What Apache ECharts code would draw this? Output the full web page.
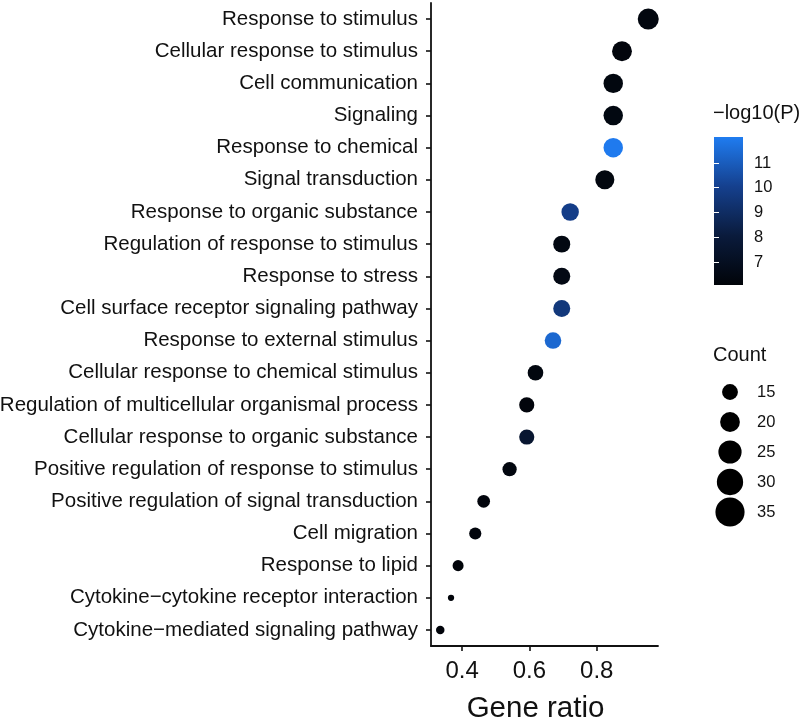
<!DOCTYPE html>
<html>
<head>
<meta charset="utf-8">
<script src="https://cdn.jsdelivr.net/npm/echarts@6/dist/echarts.min.js"></script>
<style>html,body{margin:0;padding:0;background:#fff;}#c{width:805px;height:720px;}</style>
</head>
<body>
<div id="c"></div>
<script>
var categories = [
  "Response to stimulus",
  "Cellular response to stimulus",
  "Cell communication",
  "Signaling",
  "Response to chemical",
  "Signal transduction",
  "Response to organic substance",
  "Regulation of response to stimulus",
  "Response to stress",
  "Cell surface receptor signaling pathway",
  "Response to external stimulus",
  "Cellular response to chemical stimulus",
  "Regulation of multicellular organismal process",
  "Cellular response to organic substance",
  "Positive regulation of response to stimulus",
  "Positive regulation of signal transduction",
  "Cell migration",
  "Response to lipid",
  "Cytokine\u2212cytokine receptor interaction",
  "Cytokine\u2212mediated signaling pathway"
];
var geneRatio = [0.953, 0.875, 0.849, 0.849, 0.849, 0.824, 0.721, 0.696, 0.696, 0.696, 0.670, 0.618, 0.592, 0.592, 0.541, 0.464, 0.439, 0.388, 0.367, 0.335];
var counts    = [37, 34, 33, 33, 33, 32, 28, 27, 27, 27, 26, 24, 23, 23, 21, 18, 17, 15, 8, 11];
var logP      = [6.3, 6.2, 6.3, 6.4, 12.0, 6.3, 9.9, 6.4, 6.5, 9.6, 11.4, 6.3, 6.2, 7.6, 6.3, 6.2, 6.2, 6.1, 6.1, 6.1];
var xTicks = [0.4, 0.6, 0.8];
var colorTicks = [7, 8, 9, 10, 11];
var sizeLegendCounts = [15, 20, 25, 30, 35];

var colorMin = 6.07, colorMax = 12.05;
var colorRamp = ['#010409', '#0a1b3c', '#15408e', '#1f7cf0'];
var legendScale = 1.44;
function dotSize(c) { return Math.max(3, -6.52 + 4.525 * Math.sqrt(c)); }

var font = '"Liberation Sans", Arial, sans-serif';
var stops = colorRamp.map(function (c, i) { return { offset: i / (colorRamp.length - 1), color: c }; });

var chart = echarts.init(document.getElementById('c'), null, { renderer: 'canvas' });
chart.setOption({
  backgroundColor: '#fff',
  animation: false,
  textStyle: { fontFamily: font },
  title: [
    { text: '\u2212log10(P)', left: 713, top: 103, textStyle: { fontSize: 20, fontWeight: 'normal', color: '#111', fontFamily: font }, padding: 0 },
    { text: 'Count', left: 713, top: 345, textStyle: { fontSize: 20, fontWeight: 'normal', color: '#111', fontFamily: font }, padding: 0 }
  ],
  grid: [
    { left: 431, right: 147, top: 3, bottom: 74, outerBoundsMode: 'none', containLabel: false },
    { left: 714, top: 137, width: 29, height: 148, show: true, borderWidth: 0, outerBoundsMode: 'none',
      backgroundColor: { type: 'linear', x: 0, y: 1, x2: 0, y2: 0, colorStops: stops } },
    { left: 715, top: 377, width: 30, height: 150, outerBoundsMode: 'none' }
  ],
  visualMap: [{
    type: 'continuous', show: false, min: colorMin, max: colorMax, dimension: 2, seriesIndex: 0,
    inRange: { color: colorRamp }
  }],
  xAxis: [
    { type: 'value', gridIndex: 0, min: 0.3075, max: 0.982,
      name: 'Gene ratio', nameLocation: 'middle', nameGap: 48,
      nameTextStyle: { fontSize: 29.5, color: '#111', fontFamily: font, padding: [0, 18, 0, 0] },
      axisLine: { show: true, lineStyle: { color: '#111', width: 1.8 } },
      axisTick: { show: true, length: 5, lineStyle: { color: '#111', width: 1.6 }, customValues: xTicks },
      axisLabel: { fontSize: 24, color: '#111', margin: 13, customValues: xTicks, fontFamily: font },
      splitLine: { show: false } },
    { type: 'value', gridIndex: 1, min: 0, max: 1, show: false },
    { type: 'value', gridIndex: 2, min: -1, max: 1, show: false }
  ],
  yAxis: [
    { type: 'category', gridIndex: 0, data: categories, inverse: true,
      axisLine: { show: true, lineStyle: { color: '#111', width: 1.8 } },
      axisTick: { show: true, alignWithLabel: true, length: 5, lineStyle: { color: '#111', width: 1.6 } },
      axisLabel: { fontSize: 20.5, color: '#111', margin: 13, fontFamily: font },
      splitLine: { show: false } },
    { type: 'value', gridIndex: 1, min: colorMin, max: colorMax, position: 'right',
      axisLine: { show: false },
      axisTick: { show: true, inside: true, length: 5, lineStyle: { color: '#ffffff', width: 1 }, customValues: colorTicks },
      axisLabel: { fontSize: 16.5, color: '#111', margin: 11, customValues: colorTicks, fontFamily: font },
      splitLine: { show: false } },
    { type: 'value', gridIndex: 1, min: colorMin, max: colorMax, position: 'left',
      axisLine: { show: false },
      axisTick: { show: true, inside: true, length: 5, lineStyle: { color: '#ffffff', width: 1 }, customValues: colorTicks },
      axisLabel: { show: false },
      splitLine: { show: false } },
    { type: 'category', gridIndex: 2, data: sizeLegendCounts.map(String), inverse: true, position: 'right',
      axisLine: { show: false }, axisTick: { show: false },
      axisLabel: { fontSize: 16.5, color: '#111', margin: 12, fontFamily: font },
      splitLine: { show: false } }
  ],
  series: [
    { type: 'scatter', xAxisIndex: 0, yAxisIndex: 0,
      data: categories.map(function (c, i) { return [geneRatio[i], c, logP[i], counts[i]]; }),
      symbolSize: function (v) { return dotSize(v[3]); },
      itemStyle: { opacity: 1 } },
    { type: 'scatter', xAxisIndex: 2, yAxisIndex: 3,
      data: sizeLegendCounts.map(function (c) { return [0, String(c), c]; }),
      symbolSize: function (v) { return dotSize(v[2]) * legendScale; },
      itemStyle: { color: '#000', opacity: 1 } }
  ]
});
</script>
</body>
</html>
